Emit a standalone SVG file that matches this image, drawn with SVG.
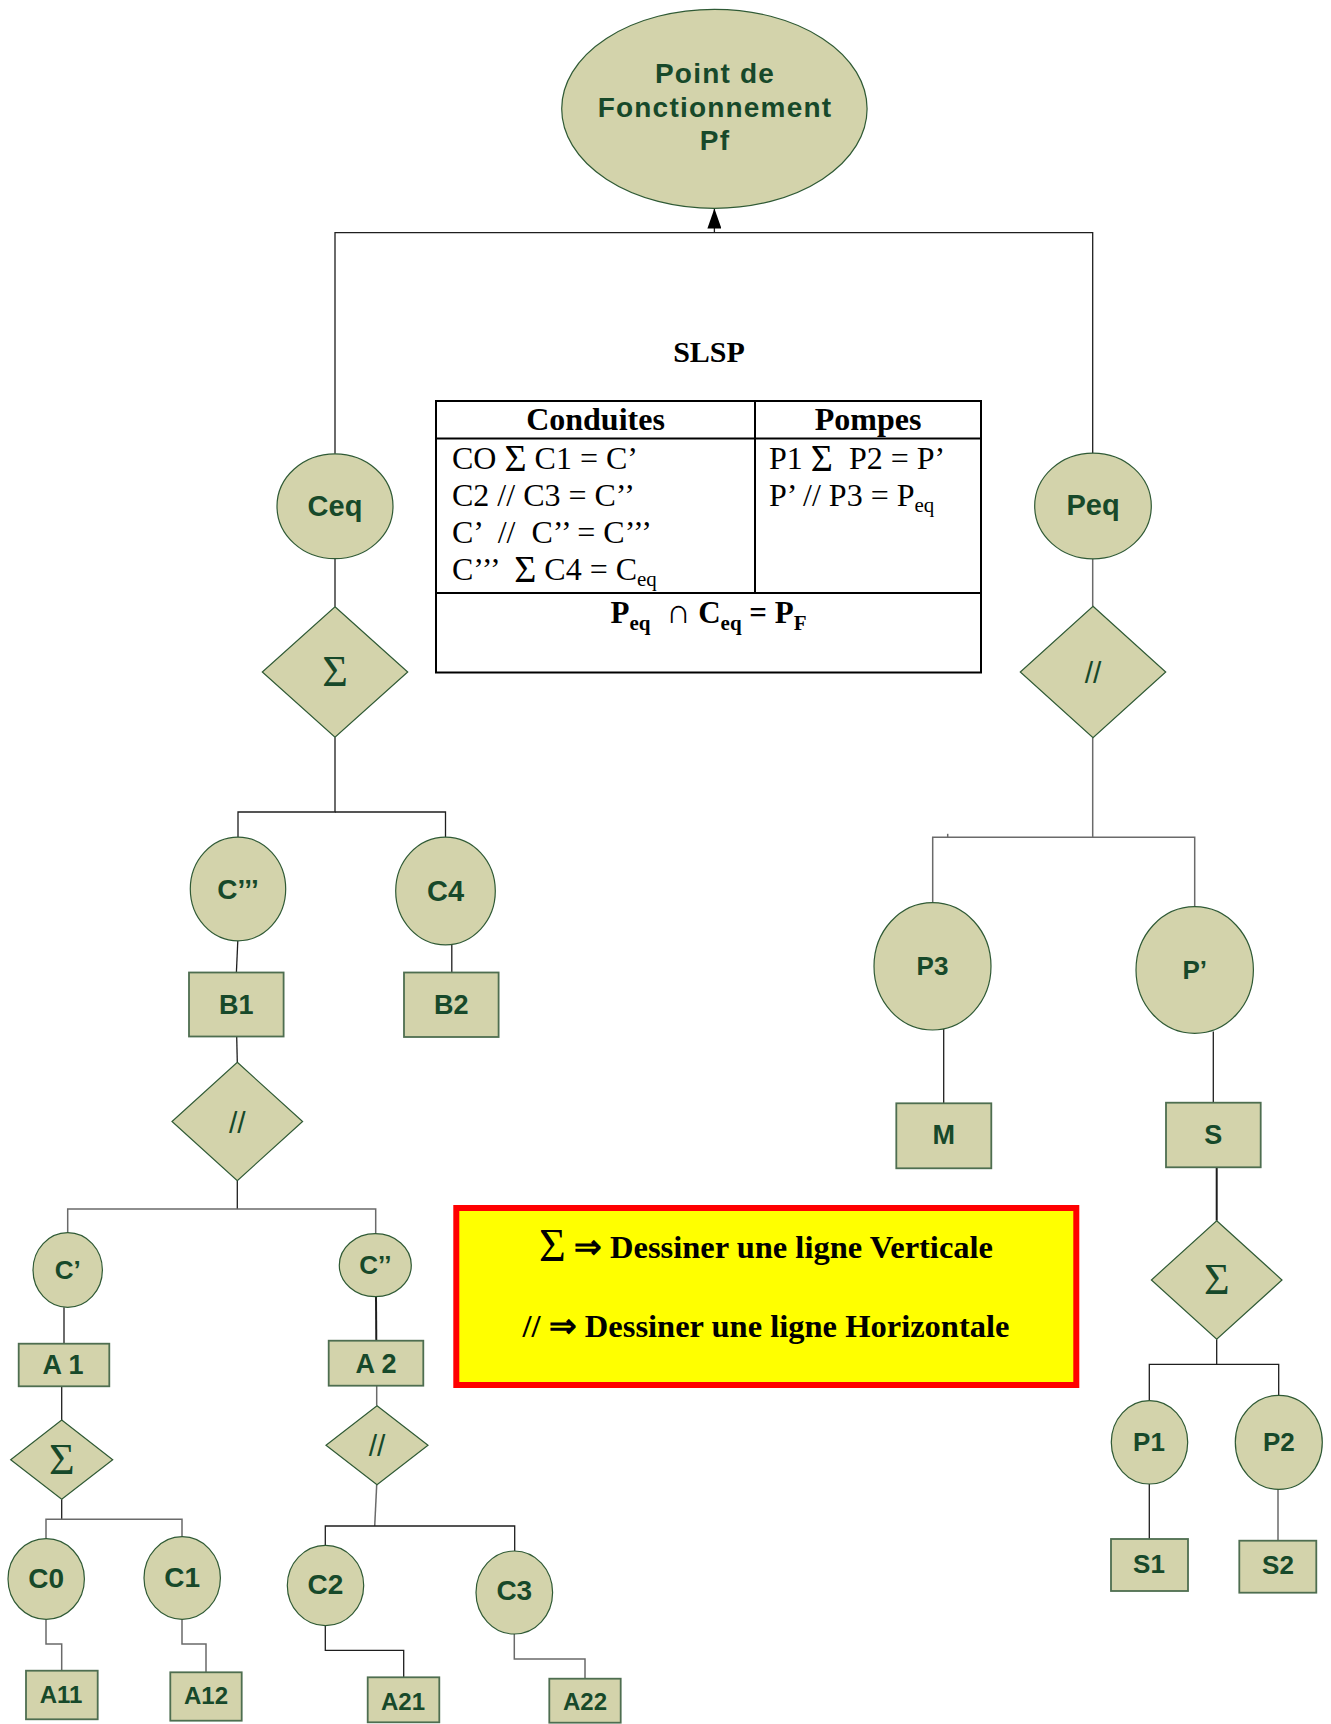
<svg xmlns="http://www.w3.org/2000/svg" width="1331" height="1724" viewBox="0 0 1331 1724">
<style>
.nd{fill:#D3D3AB;stroke:#2F5A35;stroke-width:1.2}
.bx{fill:#D3D3AB;stroke:#4E6E50;stroke-width:1.8}
.lb{font-family:"Liberation Sans",Arial,sans-serif;font-weight:bold;fill:#17492A;text-anchor:middle}
.sym{font-family:"Liberation Serif","DejaVu Serif",serif;fill:#17492A;text-anchor:middle}
.sl{font-family:"Liberation Sans",Arial,sans-serif;fill:#17492A;text-anchor:middle}
.cn{fill:none;stroke:#1E1E1E;stroke-width:1.3}
.cg{fill:none;stroke:#6A6A6A;stroke-width:1.5}
.tb{fill:none;stroke:#000;stroke-width:2}
.tt{font-family:"Liberation Serif","Times New Roman",serif;fill:#000}
.th{font-family:"Liberation Serif","Times New Roman",serif;font-weight:bold;fill:#000;text-anchor:middle}
.sg{font-weight:normal}
</style>
<defs>
<marker id="arr" viewBox="0 0 20 14" refX="20" refY="7" markerWidth="20" markerHeight="14" markerUnits="userSpaceOnUse" orient="auto">
<path d="M0,0 L20,7 L0,14 z" fill="#000"/>
</marker>
</defs>
<rect x="0" y="0" width="1331" height="1724" fill="#fff"/>

<g id="connectors">
<polyline class="cn" points="335,453.7 335,232.7 1092.7,232.7 1092.7,453.3"/>
<line class="cn" x1="714.4" y1="232.7" x2="714.4" y2="208.5" marker-end="url(#arr)"/>
<line class="cn" x1="335" y1="558.7" x2="335" y2="606.8"/>
<polyline class="cn" points="335,737.2 335,812 238,812 238,837.3"/>
<polyline class="cn" points="335,812 445.5,812 445.5,837.3"/>
<line class="cn" x1="237.8" y1="940.8" x2="236.4" y2="972.5"/>
<line class="cn" x1="451.8" y1="944.6" x2="451.8" y2="972.5"/>
<line class="cn" x1="236.7" y1="1036.5" x2="237.3" y2="1062.3"/>
<line class="cn" x1="237.3" y1="1180.7" x2="237.3" y2="1209"/>
<polyline class="cg" points="67.7,1232.7 67.7,1209 375.7,1209 375.7,1233.7"/>
<line class="cn" x1="64" y1="1307.3" x2="64" y2="1343.7"/>
<line class="cn" x1="61.7" y1="1386.3" x2="61.7" y2="1420"/>
<line class="cn" x1="61.7" y1="1499.3" x2="61.7" y2="1519.3"/>
<polyline class="cg" points="46,1538.7 46,1519.3 182,1519.3 182,1536.7"/>
<polyline class="cg" points="46,1619.3 46,1644 61.7,1644 61.7,1670.7"/>
<polyline class="cg" points="182,1619.3 182,1644 206,1644 206,1672.3"/>
<line class="cn" x1="376" y1="1296.7" x2="376.3" y2="1340.7" style="stroke-width:2"/>
<line class="cg" x1="376.7" y1="1385.7" x2="376.7" y2="1405.7"/>
<line class="cg" x1="376.7" y1="1484.7" x2="374.7" y2="1526"/>
<polyline class="cn" points="325.3,1545.3 325.3,1526 514.7,1526 514.7,1551"/>
<polyline class="cn" points="325.3,1625.7 325.3,1650.3 403.7,1650.3 403.7,1677.3"/>
<polyline class="cg" points="514.3,1634 514.3,1659 585,1659 585,1678.7"/>
<line class="cg" x1="1092.7" y1="558.8" x2="1092.7" y2="606.3"/>
<line class="cg" x1="1092.7" y1="737.7" x2="1092.7" y2="837.3"/>
<polyline class="cg" points="932.7,902.7 932.7,837.3 1194.7,837.3 1194.7,906.7"/>
<line class="cg" x1="947.7" y1="833.8" x2="947.7" y2="837.3"/>
<line class="cn" x1="943.7" y1="1027.5" x2="943.7" y2="1103.3"/>
<line class="cn" x1="1213.3" y1="1031.5" x2="1213.3" y2="1102.7"/>
<line class="cn" x1="1216.7" y1="1167.3" x2="1216.7" y2="1220.7" style="stroke-width:2"/>
<polyline class="cn" points="1216.7,1339.3 1216.7,1364.3 1149.3,1364.3 1149.3,1400.7"/>
<polyline class="cn" points="1216.7,1364.3 1278.7,1364.3 1278.7,1395.3"/>
<line class="cn" x1="1149.3" y1="1484" x2="1149.3" y2="1539"/>
<line class="cg" x1="1278" y1="1489" x2="1278" y2="1540.7"/>
</g>

<g id="pf">
<ellipse class="nd" cx="714.4" cy="108.8" rx="152.7" ry="99.5"/>
<text class="lb" font-size="28" letter-spacing="1.2"><tspan x="715" y="83.3">Point de</tspan><tspan x="715" y="116.5">Fonctionnement</tspan><tspan x="715" y="150">Pf</tspan></text>
</g>

<g id="slsp">
<text class="th" x="709" y="362" font-size="30">SLSP</text>
<rect class="tb" x="436" y="401" width="545" height="271.5"/>
<line class="tb" x1="436" y1="438.5" x2="981" y2="438.5"/>
<line class="tb" x1="755" y1="401" x2="755" y2="593"/>
<line class="tb" x1="436" y1="593" x2="981" y2="593"/>
<text class="th" x="595.5" y="430" font-size="32">Conduites</text>
<text class="th" x="868" y="430" font-size="32">Pompes</text>
<text class="tt" font-size="32" xml:space="preserve"><tspan x="452" y="469">CO <tspan font-size="38" dy="2">Σ</tspan><tspan dy="-2"> C1 = C’</tspan></tspan><tspan x="452" y="506">C2 // C3 = C’’</tspan><tspan x="452" y="543">C’  //  C’’ = C’’’</tspan><tspan x="452" y="580">C’’’  <tspan font-size="38" dy="2">Σ</tspan><tspan dy="-2"> C4 = C</tspan><tspan font-size="21" dy="6">eq</tspan></tspan></text>
<text class="tt" font-size="32" xml:space="preserve"><tspan x="769" y="469">P1 <tspan font-size="38" dy="2">Σ</tspan><tspan dy="-2">  P2 = P’</tspan></tspan><tspan x="769" y="506">P’ // P3 = P<tspan font-size="21" dy="6">eq</tspan></tspan></text>
<text class="th" x="708.5" y="623" font-size="31" xml:space="preserve">P<tspan font-size="21" dy="7">eq</tspan><tspan dy="-7">  </tspan><tspan class="sg" font-size="34">∩</tspan><tspan> C</tspan><tspan font-size="21" dy="7">eq</tspan><tspan dy="-7"> = P</tspan><tspan font-size="21" dy="7">F</tspan></text>
</g>

<g id="legend">
<rect x="456.3" y="1208" width="620" height="177" fill="#FFFF00" stroke="#FF0000" stroke-width="6"/>
<text class="th" x="766" y="1258" font-size="32.5"><tspan class="sg" font-size="46" dy="3">Σ</tspan><tspan dy="-3"> ⇒ Dessiner une ligne Verticale</tspan></text>
<text class="th" x="766" y="1337" font-size="32.5">// ⇒ Dessiner une ligne Horizontale</text>
</g>

<g id="ceq"><ellipse class="nd" cx="335" cy="506.3" rx="58" ry="52.4"/><text class="lb" x="335" y="516" font-size="29">Ceq</text></g>
<g id="sum1"><polygon class="nd" points="335,606.8 407.7,672 335,737.2 262.3,672"/><text class="sym" x="335" y="686" font-size="44">Σ</text></g>
<g id="c3p"><ellipse class="nd" cx="238" cy="889" rx="47.7" ry="51.8"/><text class="lb" x="238" y="899" font-size="28">C’’’</text></g>
<g id="c4"><ellipse class="nd" cx="445.5" cy="891" rx="49.8" ry="53.8"/><text class="lb" x="445.5" y="901" font-size="29">C4</text></g>
<g id="b1"><rect class="bx" x="189" y="972.5" width="94.6" height="64"/><text class="lb" x="236.3" y="1014" font-size="27">B1</text></g>
<g id="b2"><rect class="bx" x="404" y="972.5" width="94.6" height="64.5"/><text class="lb" x="451.3" y="1014" font-size="27">B2</text></g>
<g id="par1"><polygon class="nd" points="237.3,1062.3 302.6,1121.5 237.3,1180.7 172,1121.5"/><text class="sl" x="237.3" y="1133" font-size="30">//</text></g>
<g id="c1p"><ellipse class="nd" cx="67.7" cy="1270" rx="34.7" ry="37.3"/><text class="lb" x="67.7" y="1279" font-size="26">C’</text></g>
<g id="c2p"><ellipse class="nd" cx="375.3" cy="1265.2" rx="36" ry="31.5"/><text class="lb" x="375.3" y="1274" font-size="26">C’’</text></g>
<g id="a1"><rect class="bx" x="18.7" y="1343.7" width="90.6" height="42.6"/><text class="lb" x="63" y="1374" font-size="27">A 1</text></g>
<g id="a2"><rect class="bx" x="328.7" y="1340.7" width="94.6" height="45"/><text class="lb" x="376" y="1372.5" font-size="27">A 2</text></g>
<g id="sum2"><polygon class="nd" points="61.7,1420 112.7,1459.7 61.7,1499.3 10.7,1459.7"/><text class="sym" x="61.7" y="1474" font-size="44">Σ</text></g>
<g id="par2"><polygon class="nd" points="377,1405.7 428,1445.2 377,1484.7 326,1445.2"/><text class="sl" x="377" y="1456" font-size="30">//</text></g>
<g id="c0"><ellipse class="nd" cx="46.2" cy="1579" rx="38.2" ry="40.3"/><text class="lb" x="46.2" y="1587.5" font-size="28">C0</text></g>
<g id="c1"><ellipse class="nd" cx="182.2" cy="1578" rx="38.2" ry="41.3"/><text class="lb" x="182.2" y="1586.7" font-size="28">C1</text></g>
<g id="c2"><ellipse class="nd" cx="325.5" cy="1585.5" rx="38.2" ry="40.2"/><text class="lb" x="325.5" y="1594.3" font-size="28">C2</text></g>
<g id="c3"><ellipse class="nd" cx="514.3" cy="1592.5" rx="38.3" ry="41.5"/><text class="lb" x="514.3" y="1600" font-size="28">C3</text></g>
<g id="a11"><rect class="bx" x="26" y="1670.7" width="71.7" height="48.6"/><text class="lb" x="61" y="1702.7" font-size="24">A11</text></g>
<g id="a12"><rect class="bx" x="170.3" y="1672.3" width="71.4" height="48.4"/><text class="lb" x="206" y="1704.3" font-size="24">A12</text></g>
<g id="a21"><rect class="bx" x="367.7" y="1677.3" width="71.6" height="45"/><text class="lb" x="403" y="1710" font-size="24">A21</text></g>
<g id="a22"><rect class="bx" x="549.3" y="1678.7" width="71.4" height="44"/><text class="lb" x="585" y="1710" font-size="24">A22</text></g>

<g id="peq"><ellipse class="nd" cx="1093" cy="506" rx="58.3" ry="52.8"/><text class="lb" x="1093" y="515" font-size="29">Peq</text></g>
<g id="par3"><polygon class="nd" points="1093,606.3 1165.7,672 1093,737.7 1020.3,672"/><text class="sl" x="1093" y="683" font-size="30">//</text></g>
<g id="p3"><ellipse class="nd" cx="932.5" cy="966.3" rx="58.5" ry="63.7"/><text class="lb" x="932.5" y="975" font-size="26">P3</text></g>
<g id="pp"><ellipse class="nd" cx="1194.7" cy="970" rx="58.7" ry="63.3"/><text class="lb" x="1194.7" y="979" font-size="26">P’</text></g>
<g id="m"><rect class="bx" x="896.3" y="1103.3" width="95" height="65"/><text class="lb" x="943.8" y="1144" font-size="27">M</text></g>
<g id="s"><rect class="bx" x="1166" y="1102.7" width="94.7" height="64.6"/><text class="lb" x="1213.3" y="1144" font-size="27">S</text></g>
<g id="sum3"><polygon class="nd" points="1216.7,1220.7 1282,1280 1216.7,1339.3 1151.4,1280"/><text class="sym" x="1216.7" y="1294" font-size="44">Σ</text></g>
<g id="p1"><ellipse class="nd" cx="1149.5" cy="1442.3" rx="38.2" ry="41.7"/><text class="lb" x="1149" y="1450.5" font-size="26">P1</text></g>
<g id="p2"><ellipse class="nd" cx="1278.8" cy="1442.3" rx="43.5" ry="47"/><text class="lb" x="1278.8" y="1450.5" font-size="26">P2</text></g>
<g id="s1"><rect class="bx" x="1111" y="1539" width="77" height="52"/><text class="lb" x="1149" y="1572.5" font-size="26">S1</text></g>
<g id="s2"><rect class="bx" x="1239.3" y="1540.7" width="77" height="52"/><text class="lb" x="1278" y="1574" font-size="26">S2</text></g>
</svg>
